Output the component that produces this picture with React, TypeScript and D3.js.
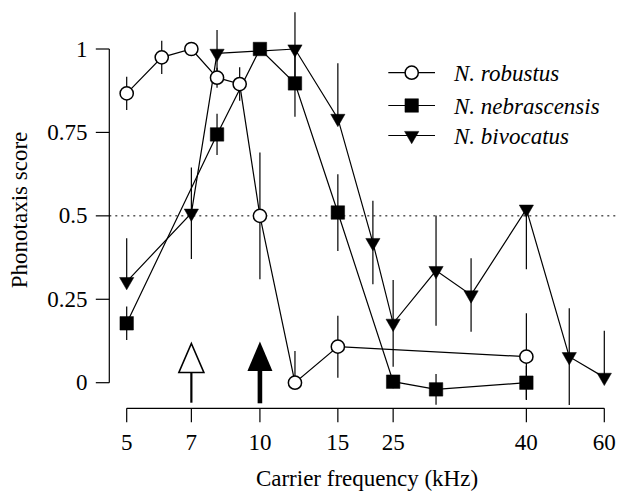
import React from "react";
import * as d3 from "d3";

const width = 619;
const height = 493;

// carrier frequency (kHz) and phonotaxis scores
const robustusX = [5, 6, 7, 8, 9, 10, 12, 15, 40];
const robustusY = [0.867, 0.975, 1.0, 0.914, 0.895, 0.5, 0.0, 0.108, 0.078];
const robustusHi = [0.05, 0.05, 0, 0.03, 0.05, 0.19, 0.095, 0.093, 0.13];
const robustusLo = [0.05, 0.05, 0, 0.03, 0.05, 0.19, 0, 0.093, 0.13];

const nebrascensisX = [5, 8, 10, 12, 15, 20, 25, 40];
const nebrascensisY = [0.178, 0.744, 1.0, 0.897, 0.51, 0.003, -0.02, 0.0];
const nebrascensisHi = [0.05, 0.062, 0, 0.1, 0.115, 0.02, 0.046, 0.05];
const nebrascensisLo = [0.05, 0.062, 0, 0.1, 0.115, 0.02, 0.046, 0.05];

const bivocatusX = [5, 7, 8, 12, 15, 18, 20, 25, 30, 40, 50, 60];
const bivocatusY = [0.303, 0.508, 0.987, 1.0, 0.792, 0.42, 0.178, 0.336, 0.263, 0.52, 0.078, 0.016];
const bivocatusHi = [0.13, 0.137, 0.07, 0.11, 0.165, 0.125, 0.13, 0.165, 0.11, 0, 0.145, 0.14];
const bivocatusLo = [0, 0.137, 0.07, 0.11, 0, 0.125, 0.13, 0.165, 0.11, 0.18, 0.145, 0];

const xTickValues = [5, 7, 10, 15, 20, 40, 60];
const xTickLabels = ["5", "7", "10", "15", "25", "40", "60"];
const yTickValues = [0, 0.25, 0.5, 0.75, 1];
const yTickLabels = ["0", "0.25", "0.5", "0.75", "1"];

const openArrowAt = 7;
const filledArrowAt = 10;
const criterion = 0.5;

const font = '"Liberation Serif", "DejaVu Serif", "Times New Roman", Times, serif';

const x = d3.scaleLog().domain([5, 60]).range([126.7, 604.3]);
const y = d3.scaleLinear().domain([0, 1]).range([382.7, 49]);

const circlePath = d3.symbol().type(d3.symbolCircle).size(Math.PI * 6.6 * 6.6)();
const squarePath = d3.symbol().type(d3.symbolSquare).size(13.5 * 13.5)();
const trianglePath = d3.symbol().type(d3.symbolTriangle).size(88)();

type Series = {
  name: string;
  xs: number[];
  ys: number[];
  hi: number[];
  lo: number[];
  marker: string;
  fill: string;
  rotate: number;
};

const series: Series[] = [
  { name: "N. bivocatus", xs: bivocatusX, ys: bivocatusY, hi: bivocatusHi, lo: bivocatusLo, marker: trianglePath, fill: "#000", rotate: 180 },
  { name: "N. nebrascensis", xs: nebrascensisX, ys: nebrascensisY, hi: nebrascensisHi, lo: nebrascensisLo, marker: squarePath, fill: "#000", rotate: 0 },
  { name: "N. robustus", xs: robustusX, ys: robustusY, hi: robustusHi, lo: robustusLo, marker: circlePath, fill: "#fff", rotate: 0 },
];

const legendOrder = [2, 1, 0];

const line = d3
  .line<[number, number]>()
  .x((d) => x(d[0]))
  .y((d) => y(d[1]));

const textStyle = { fontFamily: font };

export default function App() {
  const axisY = 408.3;
  const axisX = 109.3;

  return (
    <svg
      width={width}
      height={height}
      style={{ position: "absolute", left: 0, top: 0, background: "#fff", fontFamily: font }}
    >
      {/* y axis */}
      <line x1={axisX} x2={axisX} y1={y(0)} y2={y(1)} stroke="#000" strokeWidth={1.2} />
      {yTickValues.map((v, i) => (
        <g key={"yt" + i}>
          <line x1={axisX - 13.5} x2={axisX} y1={y(v)} y2={y(v)} stroke="#000" strokeWidth={1.2} />
          <text x={87.5} y={y(v) + 7.6} textAnchor="end" fontSize={23} style={textStyle}>
            {yTickLabels[i]}
          </text>
        </g>
      ))}
      <text transform={`translate(26.5,210) rotate(-90)`} textAnchor="middle" fontSize={23} style={textStyle}>
        Phonotaxis score
      </text>

      {/* x axis */}
      <line x1={x(5)} x2={x(60)} y1={axisY} y2={axisY} stroke="#000" strokeWidth={1.2} />
      {xTickValues.map((v, i) => (
        <g key={"xt" + i}>
          <line x1={x(v)} x2={x(v)} y1={axisY} y2={axisY + 14} stroke="#000" strokeWidth={1.2} />
          <text x={x(v)} y={449.5} textAnchor="middle" fontSize={23} style={textStyle}>
            {xTickLabels[i]}
          </text>
        </g>
      ))}
      <text x={367} y={486} textAnchor="middle" fontSize={23} style={textStyle}>
        Carrier frequency (kHz)
      </text>

      {/* criterion line */}
      <line
        x1={axisX}
        x2={617}
        y1={y(criterion)}
        y2={y(criterion)}
        stroke="#000"
        strokeWidth={1}
        strokeDasharray="2,4"
      />

      {/* arrows */}
      <g>
        <line x1={x(openArrowAt)} x2={x(openArrowAt)} y1={371} y2={402.7} stroke="#000" strokeWidth={2.2} />
        <path
          d={`M${x(openArrowAt)},343.5 L${x(openArrowAt) + 12.5},372.5 L${x(openArrowAt) - 12.5},372.5 Z`}
          fill="#fff"
          stroke="#000"
          strokeWidth={1.6}
        />
        <line x1={x(filledArrowAt)} x2={x(filledArrowAt)} y1={368} y2={403.3} stroke="#000" strokeWidth={4.6} />
        <path
          d={`M${x(filledArrowAt)},341.5 L${x(filledArrowAt) + 12.5},371 L${x(filledArrowAt) - 12.5},371 Z`}
          fill="#000"
        />
      </g>

      {/* error bars */}
      {series.map((s) =>
        s.xs.map((xv, i) => (
          <line
            key={s.name + "e" + i}
            x1={x(xv)}
            x2={x(xv)}
            y1={y(s.ys[i] + s.hi[i])}
            y2={y(s.ys[i] - s.lo[i])}
            stroke="#000"
            strokeWidth={1.2}
          />
        ))
      )}

      {/* lines */}
      {series.map((s) => (
        <path
          key={s.name + "l"}
          d={line(s.xs.map((xv, i) => [xv, s.ys[i]] as [number, number])) || ""}
          fill="none"
          stroke="#000"
          strokeWidth={1.2}
        />
      ))}

      {/* markers */}
      {series.map((s) =>
        s.xs.map((xv, i) => (
          <path
            key={s.name + "m" + i}
            d={s.marker}
            transform={`translate(${x(xv)},${y(s.ys[i])}) rotate(${s.rotate})`}
            fill={s.fill}
            stroke="#000"
            strokeWidth={s.fill === "#fff" ? 1.5 : 0.5}
          />
        ))
      )}

      {/* legend */}
      {legendOrder.map((si, row) => {
        const s = series[si];
        const ly = [72.7, 105.5, 135.5][row];
        return (
          <g key={"lg" + row}>
            <line x1={388.3} x2={435} y1={ly} y2={ly} stroke="#000" strokeWidth={1.2} />
            <path
              d={s.marker}
              transform={`translate(411.7,${ly}) rotate(${s.rotate})`}
              fill={s.fill}
              stroke="#000"
              strokeWidth={s.fill === "#fff" ? 1.5 : 0.5}
            />
            <text x={454} y={ly + 8} fontSize={23} fontStyle="italic" style={textStyle}>
              {s.name}
            </text>
          </g>
        );
      })}
    </svg>
  );
}
